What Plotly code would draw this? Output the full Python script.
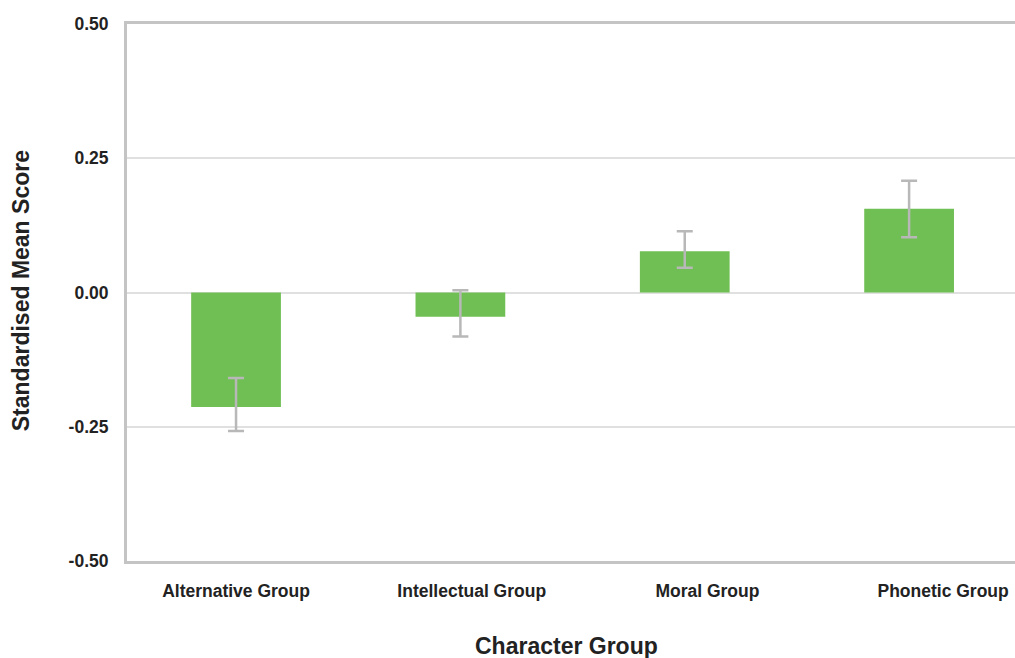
import plotly.graph_objects as go

categories = ["Alternative Group", "Intellectual Group", "Moral Group", "Phonetic Group"]
means = [-0.213, -0.045, 0.077, 0.156]
err_plus = [0.054, 0.049, 0.037, 0.052]
err_minus = [0.045, 0.037, 0.031, 0.053]
y_ticks = [-0.5, -0.25, 0.0, 0.25, 0.5]

# in the reference the category labels are spaced slightly wider than the bars
label_spacing = 1.0505
label_positions = [i * label_spacing for i in range(len(categories))]

fig = go.Figure()
fig.add_trace(go.Bar(
    x=list(range(len(categories))),
    y=means,
    width=0.4,
    marker=dict(color="#70bf54", line=dict(width=0)),
    error_y=dict(type="data", symmetric=False, array=err_plus, arrayminus=err_minus,
                 color="#b8b8b8", thickness=2.5, width=8),
    hoverinfo="skip",
))

font_family = "Liberation Sans, Arial, sans-serif"
fig.update_layout(
    template="none",
    width=1015, height=658,
    margin=dict(l=127, r=0, t=24, b=97, autoexpand=False),
    plot_bgcolor="white", paper_bgcolor="white",
    showlegend=False,
    font=dict(family=font_family, color="#222222"),
    xaxis=dict(
        range=[-0.486, 3.472], automargin=False,
        tickmode="array", tickvals=label_positions, ticktext=[f"<b>{c}</b>" for c in categories],
        tickfont=dict(size=17.5, family=font_family, color="#222222"),
        showgrid=False, zeroline=False,
        showline=True, linecolor="#c4c4c4", linewidth=3, mirror=True,
        ticks="", ticklabelstandoff=12,
    ),
    yaxis=dict(
        range=[-0.5, 0.5], automargin=False,
        tickmode="array", tickvals=y_ticks, ticktext=[f"<b>{v:.2f}</b>" for v in y_ticks],
        tickfont=dict(size=17.5, family=font_family, color="#222222"),
        showgrid=True, gridcolor="#e0e0e0", gridwidth=2,
        zeroline=False,
        showline=True, linecolor="#c4c4c4", linewidth=3,
        ticks="", ticklabelstandoff=12,
    ),
    annotations=[
        dict(text="<b>Character Group</b>", xref="paper", yref="paper", x=0.495, y=-0.158,
             xanchor="center", yanchor="middle", showarrow=False,
             font=dict(size=23, family=font_family, color="#222222")),
        dict(text="<b>Standardised Mean Score</b>", xref="paper", yref="paper", x=-0.119, y=0.503,
             xanchor="center", yanchor="middle", showarrow=False, textangle=-90,
             font=dict(size=23, family=font_family, color="#222222")),
    ],
)

fig.write_html("out.html", config={"displayModeBar": False},
               post_script="document.body.style.margin='0';")
